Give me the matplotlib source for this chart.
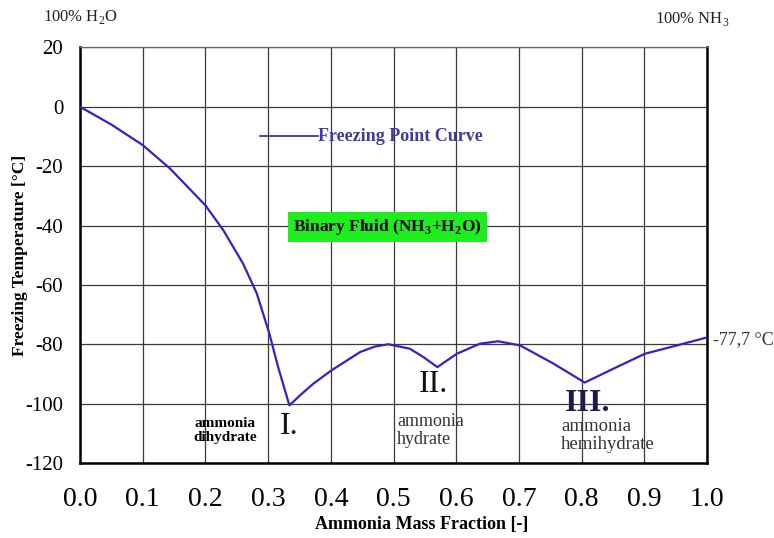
import matplotlib
matplotlib.use('Agg')
import matplotlib.pyplot as plt

# Freezing point curve of ammonia-water
massFrac = [0.0, 0.05, 0.10, 0.1435, 0.20, 0.2286, 0.26, 0.282, 0.302, 0.316, 0.334,
            0.351, 0.372, 0.401, 0.447, 0.47, 0.492, 0.526, 0.5476, 0.570, 0.601,
            0.638, 0.667, 0.702, 0.755, 0.805, 0.856, 0.901, 0.952, 1.0]
freezeT = [0.0, -6.0, -12.9, -20.8, -33.2, -41.6, -52.8, -62.9, -76.4, -87.7, -100.6,
           -97.2, -93.3, -88.8, -82.6, -80.8, -80.0, -81.5, -84.3, -87.7, -83.2,
           -79.8, -79.0, -80.4, -86.5, -92.9, -87.7, -83.2, -80.4, -77.7]

xTicks = [0.0, 0.1, 0.2, 0.3, 0.4, 0.5, 0.6, 0.7, 0.8, 0.9, 1.0]
yTicks = [20, 0, -20, -40, -60, -80, -100, -120]

plt.rcParams['font.family'] = ['Liberation Serif', 'DejaVu Serif']
plt.rcParams['mathtext.fontset'] = 'custom'
plt.rcParams['mathtext.rm'] = 'Liberation Serif'
plt.rcParams['mathtext.bf'] = 'Liberation Serif:bold'
plt.rcParams['axes.unicode_minus'] = False

fig = plt.figure(figsize=(7.74, 5.38), dpi=100)
ax = fig.add_axes([80/774, 75/538, 627/774, 415.6/538])

gridCol = '#3a3a3a'
ax.plot(massFrac, freezeT, color='#3322c4', linewidth=1.6, zorder=3)

ax.set_xlim(0, 1)
ax.set_ylim(-120, 20)
ax.set_xticks(xTicks)
ax.set_xticklabels(['%.1f' % v for v in xTicks])
ax.set_yticks(yTicks)
ax.tick_params(axis='x', length=0, pad=17, labelsize=20)
ax.tick_params(axis='y', length=0, pad=12, labelsize=15)
ax.grid(True, color=gridCol, linewidth=0.9)

for s in ['left', 'bottom', 'right']:
  ax.spines[s].set_linewidth(1.8)
  ax.spines[s].set_color('black')
ax.spines['top'].set_linewidth(0.9)
ax.spines['top'].set_color('#666666')

ax.set_xlabel('Ammonia Mass Fraction [-]', fontsize=13, fontweight='bold')
ax.xaxis.set_label_coords((422-80)/627, -(516-463)/415.6)
ax.set_ylabel('Freezing Temperature [°C]', fontsize=12.5, fontweight='bold')
ax.yaxis.set_label_coords(-(80-28)/627, 0.5)

# corner labels
fig.text(43/774, 1-17/538, r'100% H$_2$O', fontsize=12, va='center', ha='left', color='#222222')
fig.text(655/774, 1-19/538, r'100% NH$_3$', fontsize=12, va='center', ha='left', color='#222222')

# pseudo legend
ax.plot([0.287, 0.38], [-9.9, -9.9], color='#2a2a8a', linewidth=1.2, zorder=4)
ax.text(0.38, -9.9, 'Freezing Point Curve', fontsize=13, fontweight='bold',
        color='#3c3ca0', va='center', ha='left', zorder=4)

ax.text(0.49, -40.5, r'Binary Fluid (NH$_\mathbf{3}$+H$_\mathbf{2}$O)', fontsize=12.5,
        fontweight='bold', va='center', ha='center', zorder=4,
        bbox=dict(boxstyle='square,pad=0.3', facecolor='#1eee1e', edgecolor='none'))

# hydrate labels
ax.text(0.231, -109, 'ammonia\ndihydrate', fontsize=11, fontweight='bold',
        va='center', ha='center', linespacing=1.1, zorder=4)
ax.text(0.333, -107.7, 'I.', fontsize=23, va='center', ha='center', color='#111111', zorder=4)
ax.text(0.563, -93.5, 'II.', fontsize=23, va='center', ha='center', color='#111111', zorder=4)
ax.text(0.81, -99.9, 'III.', fontsize=23, va='center', ha='center', color='#1c1c4c',
        fontweight='bold', zorder=4)
ax.text(0.506, -109, 'ammonia\nhydrate', fontsize=13, va='center', ha='left',
        color='#333333', linespacing=1.05, zorder=4)
ax.text(0.767, -110.7, 'ammonia\nhemihydrate', fontsize=13.5, va='center', ha='left',
        color='#333333', linespacing=1.05, zorder=4)
ax.text(1.01, -78.5, '-77,7 °C', fontsize=13, va='center', ha='left',
        color='#333333', clip_on=False)

fig.savefig('out.png', dpi=100)
